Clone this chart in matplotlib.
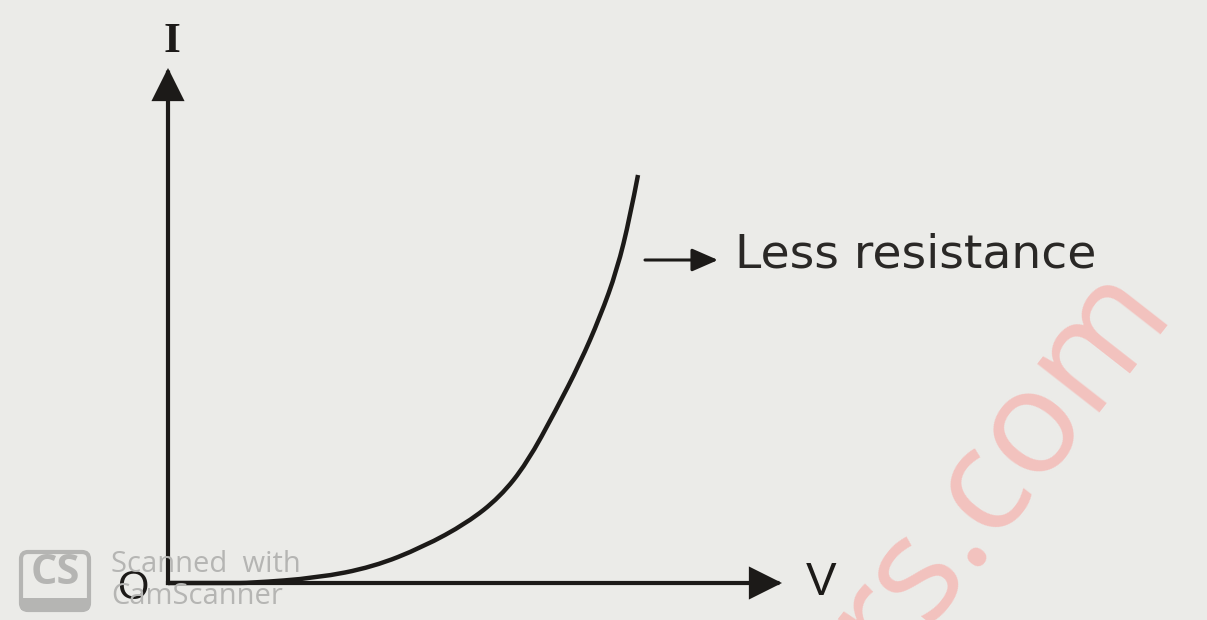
import numpy as np
import matplotlib.pyplot as plt
from matplotlib.patches import FancyArrowPatch, FancyBboxPatch, Rectangle, PathPatch
from matplotlib.path import Path

# I-V curve (V, I in arbitrary units, origin at O)
volts = [0.00, 0.62, 0.82, 1.49, 2.05, 2.55, 2.99, 3.32, 3.59, 3.88, 4.12, 4.32, 4.49, 4.62, 4.70]
amps = [0.00, 0.00, 0.00, 0.05, 0.16, 0.36, 0.60, 0.86, 1.20, 1.73, 2.20, 2.66, 3.13, 3.66, 4.08]

v_axis_end = 6.14
i_axis_end = 5.15
curve_label = "Less resistance"

ink = '#1c1a18'
paper = '#ebebe8'

fig = plt.figure(figsize=(12.07, 6.2), dpi=100, facecolor=paper)
ax = fig.add_axes([0, 0, 1, 1])
ax.set_facecolor(paper)
ax.set_xlim(-1.68, 10.39)
ax.set_ylim(-0.37, 5.83)
ax.axis('off')

# watermark first, so the drawing sits on top
ax.text(8.31, 1.20, "rs.com", rotation=52, color='#f3c2be', fontsize=105,
        family='Open Sans', ha='center', va='center', zorder=0)

# axes with arrow heads
for end in [(v_axis_end, 0), (0, i_axis_end)]:
    ax.add_patch(FancyArrowPatch((0, 0), end, arrowstyle='-|>,head_length=19,head_width=9.5',
                                 mutation_scale=1, lw=3, color=ink, shrinkA=0, shrinkB=0,
                                 zorder=3, joinstyle='miter', capstyle='projecting'))

# the curve: read points used as quadratic Bezier controls so it comes out smooth
pts = np.column_stack([volts, amps])
verts = [pts[0]]
codes = [Path.MOVETO]
for k in range(1, len(pts) - 1):
    verts += [pts[k], (pts[k] + pts[k + 1]) / 2 if k < len(pts) - 2 else pts[k + 1]]
    codes += [Path.CURVE3, Path.CURVE3]
ax.add_patch(PathPatch(Path(verts, codes), fc='none', ec=ink, lw=3.2,
                       capstyle='butt', zorder=3))

# labels
ax.text(0.04, 5.41, "I", family='Liberation Serif', fontweight='bold', fontsize=31,
        color=ink, ha='center', va='center')
ax.text(6.53, 0.0, "V", family='Liberation Sans', fontsize=33, color=ink,
        ha='center', va='center')
ax.text(-0.35, -0.05, "O", family='Liberation Sans', fontsize=29, color=ink,
        ha='center', va='center')

ax.add_patch(FancyArrowPatch((4.77, 3.23), (5.50, 3.23),
                             arrowstyle='-|>,head_length=16,head_width=7',
                             mutation_scale=1, lw=2.2, color=ink, shrinkA=0, shrinkB=0))
ax.text(5.67, 3.28, curve_label, family='DejaVu Sans', fontsize=34, color='#2a2826',
        ha='left', va='center')

# CamScanner stamp
grey = '#b5b5b3'
ax.add_patch(FancyBboxPatch((-1.47, -0.27), 0.68, 0.58, boxstyle='round,pad=0,rounding_size=0.07',
                            fc='none', ec=grey, lw=3, zorder=4))
ax.add_patch(Rectangle((-1.47, -0.27), 0.68, 0.12, fc=grey, ec='none', zorder=4))
ax.text(-1.13, 0.09, "CS", family='Open Sans', fontweight='bold', fontsize=30, color=grey,
        ha='center', va='center', zorder=4)
ax.text(-0.57, 0.18, "Scanned  with", family='Open Sans', fontsize=21, color=grey,
        ha='left', va='center', zorder=4)
ax.text(-0.57, -0.13, "CamScanner", family='Open Sans', fontsize=21, color=grey,
        ha='left', va='center', zorder=4)

fig.savefig('out.png', dpi=100, facecolor=paper)
